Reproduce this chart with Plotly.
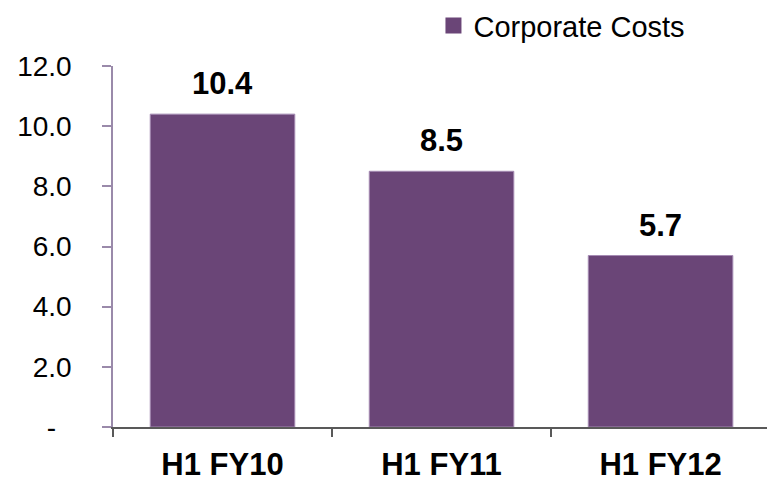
import plotly.graph_objects as go

categories = ["H1 FY10", "H1 FY11", "H1 FY12"]
corporate_costs = [10.4, 8.5, 5.7]
series_name = "Corporate Costs"
y_tick_values = [0, 2, 4, 6, 8, 10, 12]
y_tick_labels = ["-\u00a0\u00a0", "2.0", "4.0", "6.0", "8.0", "10.0", "12.0"]
value_labels = [f"{v:.1f}" for v in corporate_costs]

BAR_COLOR = "#6A4577"
FONT = "Liberation Sans, Arial, sans-serif"

fig = go.Figure()
fig.add_trace(go.Bar(
    x=categories, y=corporate_costs, name=series_name,
    marker=dict(color=BAR_COLOR, line=dict(color="#A58BB3", width=1)),
    showlegend=False,
))
# legend-only trace with a larger square swatch
fig.add_trace(go.Scatter(
    x=[None], y=[None], mode="markers", name=series_name,
    marker=dict(symbol="square", size=19, color=BAR_COLOR),
    showlegend=True,
))

for c, v, t in zip(categories, corporate_costs, value_labels):
    fig.add_annotation(x=c, y=v, text=f"<b>{t}</b>", showarrow=False,
                       yanchor="bottom", yshift=11,
                       font=dict(family=FONT, size=31, color="#000000"))

fig.update_layout(
    width=767, height=482,
    margin=dict(l=113, r=0, t=64, b=52),
    paper_bgcolor="white", plot_bgcolor="white",
    bargap=0.34,
    font=dict(family=FONT, size=28, color="#000000"),
    legend=dict(x=0.49, y=1.112, xanchor="left", yanchor="middle",
                font=dict(family=FONT, size=29, color="#000000"),
                bgcolor="rgba(0,0,0,0)"),
    xaxis=dict(
        type="category", range=[-0.5, 2.486],
        showline=True, linecolor="#595959", linewidth=2,
        ticks="outside", ticklen=8, tickcolor="#595959", tickwidth=2,
        tickson="boundaries", showgrid=False, zeroline=False,
        tickfont=dict(family=FONT, size=31, color="#000000", weight="bold"),
        ticklabelstandoff=9,
    ),
    yaxis=dict(
        range=[0, 12], tickvals=y_tick_values, ticktext=y_tick_labels,
        showline=True, linecolor="#9A8AAA", linewidth=1.5,
        ticks="outside", ticklen=9, tickcolor="#9A8AAA", tickwidth=1.5,
        showgrid=False, zeroline=False,
        tickfont=dict(family=FONT, size=28, color="#000000"),
        ticklabelstandoff=25,
    ),
)

fig.write_html("out.html", config={"displayModeBar": False},
               post_script="document.body.style.margin='0';")
